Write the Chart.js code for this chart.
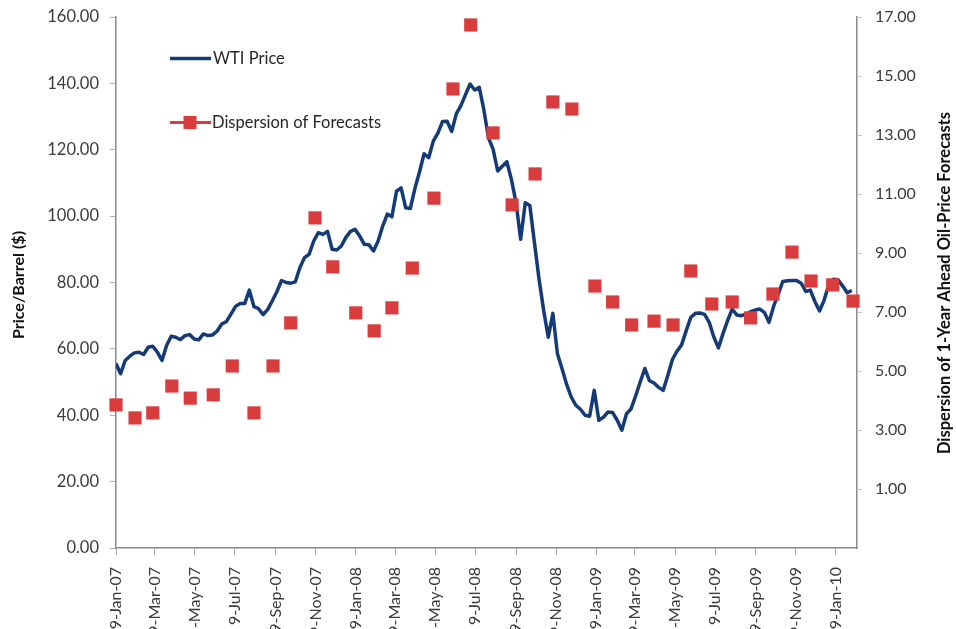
<!DOCTYPE html>
<html>
<head>
<meta charset="utf-8">
<title>WTI Price and Dispersion of Forecasts</title>
<script src="https://cdn.jsdelivr.net/npm/chart.js@4.4.0/dist/chart.umd.min.js"></script>
<style>
  html, body { margin: 0; padding: 0; background: #fff; overflow: hidden; }
  #wrap { width: 956px; height: 629px; position: relative; }
</style>
</head>
<body>
<div id="wrap"><canvas id="oilChart"></canvas></div>
<script>
// Weekly WTI price ($/barrel), first week is 9-Jan-07
const priceStart = '2007-01-09';
const wtiPrice = [
  55.6, 52.5, 56.5, 57.8, 58.8, 59.0, 58.3, 60.5, 60.8, 59.0,
  56.5, 61.0, 63.8, 63.5, 62.8, 64.0, 64.3, 63.0, 62.7, 64.5,
  64.0, 64.2, 65.4, 67.5, 68.2, 70.5, 72.8, 73.7, 73.7, 77.7,
  72.7, 72.1, 70.3, 71.9, 74.5, 77.3, 80.6, 80.0, 79.8, 80.2,
  84.5, 87.5, 88.5, 92.5, 95.0, 94.5, 95.4, 90.0, 89.8, 91.0,
  93.6, 95.4, 96.0, 94.0, 91.5, 91.4, 89.5, 92.5, 97.0, 100.6,
  99.8, 107.5, 108.5, 102.5, 102.3, 108.3, 113.3, 118.8, 117.6, 122.6,
  125.0, 128.5, 128.6, 125.5, 130.8, 133.3, 136.6, 139.8, 138.0, 138.8,
  132.0, 123.6, 120.2, 113.6, 115.0, 116.4, 111.0, 104.0, 93.0, 104.0,
  103.2, 92.0, 81.0, 71.6, 63.5, 70.7, 58.5, 54.0, 49.3, 45.5,
  43.0, 41.8, 40.0, 39.7, 47.5, 38.5, 39.4, 41.0, 40.8, 38.5,
  35.5, 40.4, 41.9, 45.8, 50.0, 54.1, 50.4, 49.7, 48.4, 47.5,
  52.0, 56.8, 59.3, 61.2, 65.5, 69.5, 70.7, 70.8, 70.4, 68.0,
  63.6, 60.3, 64.6, 68.5, 72.0, 70.2, 70.0, 70.5, 71.2, 71.7,
  72.0, 71.0, 68.0, 72.8, 76.4, 80.3, 80.5, 80.6, 80.6, 79.8,
  77.3, 77.7, 74.2, 71.4, 74.7, 79.3, 81.0, 80.8, 79.0, 76.9,
  77.6
];

// Monthly survey dates and dispersion of 1-year ahead forecasts
const dispersionDates = [
  '2007-01-09', '2007-02-07', '2007-03-06', '2007-04-04', '2007-05-02', '2007-06-06',
  '2007-07-05', '2007-08-07', '2007-09-05', '2007-10-02', '2007-11-08', '2007-12-05',
  '2008-01-09', '2008-02-06', '2008-03-04', '2008-04-04', '2008-05-07', '2008-06-05',
  '2008-07-02', '2008-08-05', '2008-09-03', '2008-10-08', '2008-11-04', '2008-12-03',
  '2009-01-07', '2009-02-03', '2009-03-04', '2009-04-07', '2009-05-06', '2009-06-02',
  '2009-07-04', '2009-08-04', '2009-09-01', '2009-10-05', '2009-11-03', '2009-12-02',
  '2010-01-04', '2010-02-04'
];
const dispersionValues = [
  3.85, 3.41, 3.58, 4.49, 4.08, 4.19, 5.17, 3.58, 5.17, 6.63, 10.19, 8.53,
  6.97, 6.36, 7.14, 8.49, 10.86, 14.56, 16.73, 13.07, 10.63, 11.68, 14.12, 13.88,
  7.88, 7.34, 6.56, 6.69, 6.56, 8.39, 7.27, 7.34, 6.80, 7.61, 9.03, 8.05,
  7.92, 7.37
];

const xTickLabels = [
  '9-Jan-07', '9-Mar-07', '9-May-07', '9-Jul-07', '9-Sep-07', '9-Nov-07',
  '9-Jan-08', '9-Mar-08', '9-May-08', '9-Jul-08', '9-Sep-08', '9-Nov-08',
  '9-Jan-09', '9-Mar-09', '9-May-09', '9-Jul-09', '9-Sep-09', '9-Nov-09',
  '9-Jan-10'
];

const monthNames = ['Jan', 'Feb', 'Mar', 'Apr', 'May', 'Jun', 'Jul', 'Aug', 'Sep', 'Oct', 'Nov', 'Dec'];
const startUtc = Date.parse(priceStart + 'T00:00:00Z');

// days since the first week
function isoToDay(s) {
  return Math.round((Date.parse(s + 'T00:00:00Z') - startUtc) / 86400000);
}
function labelToDay(l) {
  const p = l.split('-');
  const utc = Date.UTC(2000 + parseInt(p[2], 10), monthNames.indexOf(p[1]), parseInt(p[0], 10));
  return Math.round((utc - startUtc) / 86400000);
}

const priceData = wtiPrice.map((v, i) => ({ x: i * 7, y: v }));
const dispersionData = dispersionValues.map((v, i) => ({ x: isoToDay(dispersionDates[i]), y: v }));

const fontFamily = 'Lato, "Open Sans", sans-serif';
const tickColor = '#3b3b3b';
const axisColor = '#8a8a8a';

// legend in the upper left of the plot, plus the two axis titles (both read bottom-to-top)
const annotations = {
  id: 'annotations',
  afterDraw(chart) {
    const ctx = chart.ctx;
    const ds = chart.data.datasets;
    ctx.save();
    ctx.font = '16.5px ' + fontFamily;
    ctx.fillStyle = '#262626';
    ctx.textBaseline = 'middle';
    ctx.textAlign = 'left';

    ctx.strokeStyle = ds[0].borderColor;
    ctx.lineWidth = 3.5;
    ctx.beginPath();
    ctx.moveTo(170, 58.5);
    ctx.lineTo(211, 58.5);
    ctx.stroke();
    ctx.fillText(ds[0].label, 213, 59);

    ctx.strokeStyle = ds[1].backgroundColor;
    ctx.lineWidth = 3;
    ctx.beginPath();
    ctx.moveTo(170, 122.5);
    ctx.lineTo(211, 122.5);
    ctx.stroke();
    ctx.fillStyle = ds[1].backgroundColor;
    ctx.fillRect(183.5, 116, 13, 13);
    ctx.fillStyle = '#262626';
    ctx.fillText(ds[1].label, 212, 123);

    ctx.font = 'bold 16px ' + fontFamily;
    ctx.fillStyle = '#111';
    ctx.textAlign = 'center';
    ctx.translate(19, 285);
    ctx.rotate(-Math.PI / 2);
    ctx.fillText('Price/Barrel ($)', 0, 0);
    ctx.restore();

    ctx.save();
    ctx.font = 'bold 16.5px ' + fontFamily;
    ctx.fillStyle = '#111';
    ctx.textAlign = 'center';
    ctx.textBaseline = 'middle';
    ctx.translate(945, 283);
    ctx.rotate(-Math.PI / 2);
    ctx.fillText('Dispersion of 1-Year Ahead Oil-Price Forecasts', 0, 0);
    ctx.restore();
  }
};

// fixed sizes so the plot box sits where it does in the original
function fitVertical(width) {
  return scale => {
    scale.width = width;
    scale.paddingTop = 17;
    scale.paddingBottom = 0;
  };
}

const ctx = document.getElementById('oilChart').getContext('2d');
const oilChart = new Chart(ctx, {
  type: 'line',
  data: {
    datasets: [
      {
        label: 'WTI Price',
        data: priceData,
        yAxisID: 'y',
        borderColor: '#143a78',
        borderWidth: 3.5,
        borderJoinStyle: 'round',
        pointRadius: 0,
        tension: 0,
        order: 2
      },
      {
        label: 'Dispersion of Forecasts',
        data: dispersionData,
        yAxisID: 'y2',
        showLine: false,
        pointStyle: 'rect',
        pointRadius: 9.3,
        pointBorderWidth: 0,
        backgroundColor: '#d83c3c',
        borderColor: '#d83c3c',
        clip: false,
        order: 1
      }
    ]
  },
  options: {
    responsive: true,
    maintainAspectRatio: false,
    animation: false,
    layout: { padding: { top: 0, bottom: 0, left: 0, right: 0 } },
    plugins: {
      legend: { display: false },
      tooltip: { enabled: false }
    },
    scales: {
      x: {
        type: 'linear',
        min: 0,
        max: 1128,
        afterBuildTicks: scale => {
          scale.ticks = xTickLabels.map(l => ({ value: labelToDay(l) }));
        },
        afterFit: scale => { scale.height = 81; },
        ticks: {
          autoSkip: false,
          minRotation: 90,
          maxRotation: 90,
          padding: 12,
          color: tickColor,
          font: { family: fontFamily, size: 16 },
          callback: (value, index) => xTickLabels[index]
        },
        grid: { drawOnChartArea: false, tickLength: 7, color: '#a6a6a6' },
        border: { color: axisColor, width: 1.5 }
      },
      y: {
        position: 'left',
        min: 0,
        max: 160,
        afterFit: fitVertical(116),
        ticks: {
          stepSize: 20,
          padding: 11,
          color: tickColor,
          font: { family: fontFamily, size: 16.5 },
          callback: v => v.toFixed(2)
        },
        grid: { drawOnChartArea: false, tickLength: 6, color: '#b0b0b0' },
        border: { color: axisColor, width: 1.5 }
      },
      y2: {
        position: 'right',
        min: -1,
        max: 17,
        afterFit: fitVertical(99),
        afterBuildTicks: scale => {
          scale.ticks = scale.ticks.filter(t => t.value > 0);
        },
        ticks: {
          stepSize: 2,
          padding: 13,
          color: tickColor,
          font: { family: fontFamily, size: 16 },
          callback: v => v.toFixed(2)
        },
        grid: { drawOnChartArea: false, tickLength: 5, color: '#c8c8c8' },
        border: { color: axisColor, width: 1.5 }
      }
    }
  },
  plugins: [annotations]
});
</script>
</body>
</html>
